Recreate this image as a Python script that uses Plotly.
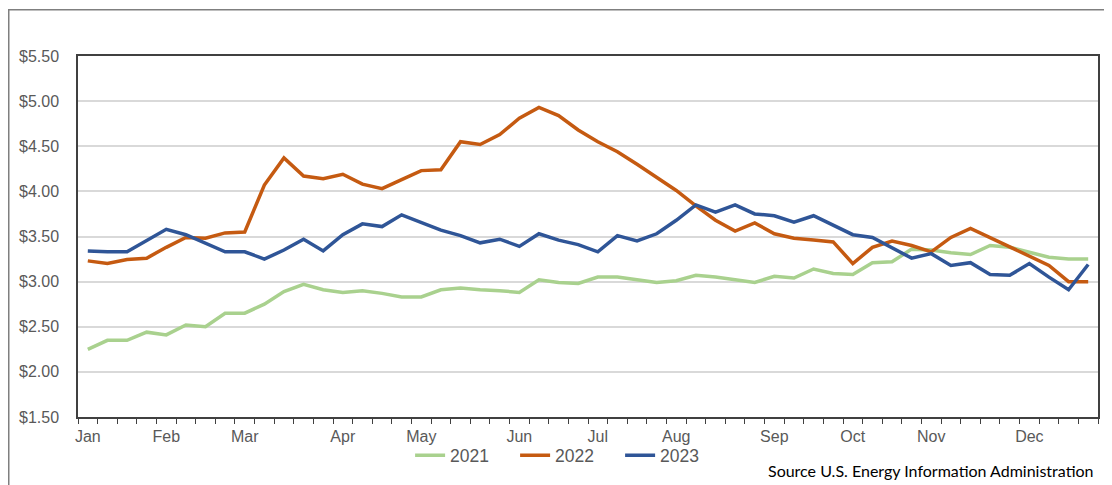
import plotly.graph_objects as go

# Weekly categories (52 weeks); month label positions
week_index = list(range(52))
month_tick_index = [0, 4, 8, 13, 17, 22, 26, 30, 35, 39, 43, 48]
month_labels = ["Jan", "Feb", "Mar", "Apr", "May", "Jun", "Jul", "Aug", "Sep", "Oct", "Nov", "Dec"]

price_2021 = [2.25, 2.35, 2.35, 2.44, 2.41, 2.52, 2.50, 2.65, 2.65, 2.75,
              2.89, 2.97, 2.91, 2.88, 2.90, 2.87, 2.83, 2.83, 2.91, 2.93,
              2.91, 2.90, 2.88, 3.02, 2.99, 2.98, 3.05, 3.05, 3.02, 2.99,
              3.01, 3.07, 3.05, 3.02, 2.99, 3.06, 3.04, 3.14, 3.09, 3.08,
              3.21, 3.22, 3.36, 3.35, 3.32, 3.30, 3.40, 3.38, 3.32, 3.27,
              3.25, 3.25]
price_2022 = [3.23, 3.20, 3.245, 3.26, 3.38, 3.49, 3.48, 3.54, 3.55, 4.07,
              4.37, 4.17, 4.14, 4.19, 4.08, 4.03, 4.13, 4.23, 4.24, 4.55,
              4.52, 4.63, 4.81, 4.93, 4.84, 4.68, 4.55, 4.44, 4.30, 4.16,
              4.01, 3.84, 3.68, 3.56, 3.65, 3.53, 3.48, 3.46, 3.44, 3.20,
              3.38, 3.45, 3.40, 3.33, 3.49, 3.59, 3.49, 3.38, 3.28, 3.18,
              3.00, 3.00]
price_2023 = [3.34, 3.33, 3.33, 3.45, 3.58, 3.52, 3.43, 3.33, 3.33, 3.25,
              3.35, 3.47, 3.34, 3.52, 3.64, 3.61, 3.74, 3.65, 3.57, 3.51,
              3.43, 3.47, 3.39, 3.53, 3.46, 3.41, 3.33, 3.51, 3.45, 3.53,
              3.68, 3.85, 3.77, 3.85, 3.75, 3.73, 3.66, 3.73, 3.62, 3.52,
              3.49, 3.38, 3.26, 3.31, 3.18, 3.21, 3.08, 3.07, 3.20, 3.05,
              2.91, 3.19]

y_tickvals = [1.5, 2.0, 2.5, 3.0, 3.5, 4.0, 4.5, 5.0, 5.5]
y_ticktext = ["$1.50", "$2.00", "$2.50", "$3.00", "$3.50", "$4.00", "$4.50", "$5.00", "$5.50"]

series = [("2021", price_2021, "#A9D18E"),
          ("2022", price_2022, "#C55A11"),
          ("2023", price_2023, "#2F5597")]

fig = go.Figure()
for name, vals, color in series:
    fig.add_trace(go.Scatter(x=week_index, y=vals, mode="lines", name=name,
                             line=dict(color=color, width=3.5)))

# page body has an 8px margin, so the figure is sized/positioned to compensate
W, H = 1104, 477
L, R, T, B = 70, 14, 48, 63
PW, PH = W - L - R, H - T - B

fig.update_layout(
    width=W, height=H,
    margin=dict(l=L, r=R, t=T, b=B),
    paper_bgcolor="white", plot_bgcolor="white",
    font=dict(family="Liberation Sans, Arial, sans-serif", color="#595959", size=16),
    showlegend=True,
    legend=dict(orientation="h", x=0.48, xanchor="center", y=-39 / PH, yanchor="middle",
                font=dict(size=17.5, color="#595959"), itemwidth=30,
                entrywidth=60, entrywidthmode="pixels",
                bgcolor="rgba(0,0,0,0)", traceorder="normal"),
)

fig.update_xaxes(
    range=[-0.5, 51.5],
    tickmode="array", tickvals=month_tick_index, ticktext=month_labels,
    ticks="", showgrid=False, zeroline=False, ticklabelstandoff=4,
    showline=True, linecolor="#404040", linewidth=1.5, mirror=True,
    tickfont=dict(size=16, color="#595959"),
    minor=dict(tickmode="array", tickvals=[k - 0.5 for k in range(53)],
               ticks="outside", ticklen=5, tickwidth=1.2, tickcolor="#404040", showgrid=False),
)
fig.update_yaxes(
    range=[1.5, 5.5],
    tickmode="array", tickvals=y_tickvals, ticktext=y_ticktext,
    showgrid=True, gridcolor="#D9D9D9", gridwidth=1.5, zeroline=False,
    showline=True, linecolor="#404040", linewidth=1.5, mirror=True,
    ticks="", ticklabelstandoff=14,
    tickfont=dict(size=16, color="#595959"),
)

fig.add_annotation(text="Source U.S. Energy Information Administration",
                   xref="paper", yref="paper", x=0.998, xanchor="right",
                   y=-54 / PH, yanchor="middle", showarrow=False,
                   font=dict(family="Lato, Carlito, sans-serif", size=16, color="black"))

# Outer chart frame (its right and bottom edges lie outside the picture)
fig.add_shape(type="rect", xref="paper", yref="paper",
              x0=(-L + 0.75) / PW, x1=1.0 + 40 / PW, y0=-0.4, y1=1.0 + (T - 1) / PH,
              line=dict(color="#7F7F7F", width=1.5), fillcolor="rgba(0,0,0,0)", layer="below")

fig.write_html("out.html")
